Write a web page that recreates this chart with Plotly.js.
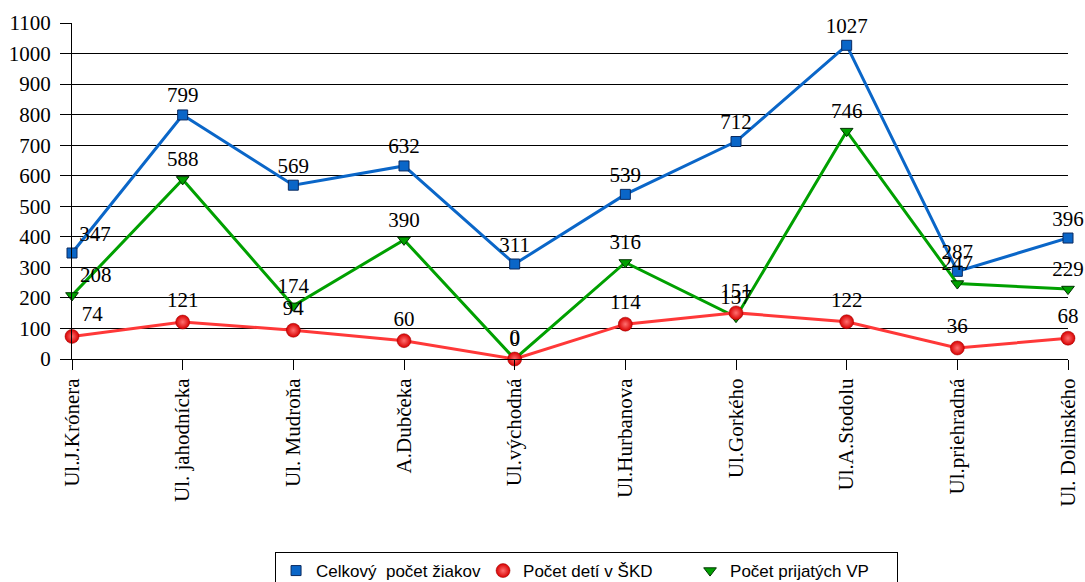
<!DOCTYPE html>
<html>
<head>
<meta charset="utf-8">
<script src="https://cdn.plot.ly/plotly-3.0.1.min.js"></script>
<style>html,body{margin:0;padding:0;background:#fff;}#chart{width:1085px;height:582px;}</style>
</head>
<body>
<div id="chart"></div>
<script>
const categories = ["Ul.J.Krónera", "Ul. jahodnícka", "Ul. Mudroňa", "A.Dubčeka", "Ul.východná", "Ul.Hurbanova", "Ul.Gorkého", "Ul.A.Stodolu", "Ul.priehradná", "Ul. Dolinského"];
const celkovyPocet = [347, 799, 569, 632, 311, 539, 712, 1027, 287, 396];
const pocetSKD = [74, 121, 94, 60, 0, 114, 151, 122, 36, 68];
const pocetVP = [208, 588, 174, 390, 0, 316, 137, 746, 247, 229];
const seriesNames = ["Celkový \u00a0počet žiakov", "Počet detí v ŠKD", "Počet prijatých VP"];

const labelFont = {family: "'Liberation Serif', 'Times New Roman', serif", size: 21, color: "#000"};
const pos = categories.map((c, i) => i === 0 ? "top right" : "top center");

const blue = "#0a66c8", red = "#ff3838", green = "#00a000";

const blueMarker = {symbol: "square", size: 10, color: blue, line: {color: "#0a2a60", width: 1}};
const redMarker = {symbol: "circle", size: 14, color: "#d80000", gradient: {type: "radial", color: "#ff7070"}, line: {color: "#990000", width: 0.5}};
const greenMarker = {symbol: "triangle-down", size: 11, color: "#00a000", line: {color: "#003300", width: 1}};

const traces = [
  {x: categories, y: celkovyPocet, mode: "lines+markers+text", text: celkovyPocet.map(String), textposition: pos, textfont: labelFont,
   line: {color: blue, width: 3}, marker: blueMarker, cliponaxis: false, showlegend: false},
  {x: categories, y: pocetVP, mode: "lines+markers+text", text: pocetVP.map(String), textposition: pos, textfont: labelFont,
   line: {color: green, width: 3}, marker: greenMarker, cliponaxis: false, showlegend: false},
  {x: categories, y: pocetSKD, mode: "lines+markers+text", text: pocetSKD.map(String), textposition: pos, textfont: labelFont,
   line: {color: red, width: 3}, marker: redMarker, cliponaxis: false, showlegend: false},
  {x: [null], y: [null], mode: "markers", name: seriesNames[0], marker: blueMarker},
  {x: [null], y: [null], mode: "markers", name: seriesNames[1], marker: redMarker},
  {x: [null], y: [null], mode: "markers", name: seriesNames[2], marker: greenMarker}
];

const layout = {
  width: 1085, height: 582,
  margin: {l: 72, r: 17, t: 23, b: 223},
  paper_bgcolor: "#fff", plot_bgcolor: "#fff",
  showlegend: true,
  xaxis: {
    type: "category", range: [0, categories.length - 1],
    showgrid: false, zeroline: false, automargin: false,
    showline: true, linecolor: "#000", linewidth: 1,
    ticks: "outside", ticklen: 10, tickcolor: "#000",
    tickangle: -90, tickfont: labelFont
  },
  yaxis: {
    range: [0, 1100], dtick: 100, tick0: 0, automargin: false,
    showgrid: true, gridcolor: "#000", gridwidth: 1,
    zeroline: false, showline: true, linecolor: "#000", linewidth: 1,
    ticks: "outside", ticklen: 11, tickcolor: "#000",
    tickfont: labelFont, ticklabelstandoff: 5
  },
  legend: {
    orientation: "h", xref: "container", yref: "container",
    x: 0.2535, xanchor: "left", y: 0.0515, yanchor: "top",
    bordercolor: "#000", borderwidth: 1, bgcolor: "#fff",
    entrywidthmode: "pixels", entrywidth: 162,
    font: {family: "'Liberation Sans', Arial, sans-serif", size: 17, color: "#000"},
    traceorder: "normal"
  }
};

Plotly.newPlot("chart", traces, layout, {displayModeBar: false, staticPlot: true});
</script>
</body>
</html>
